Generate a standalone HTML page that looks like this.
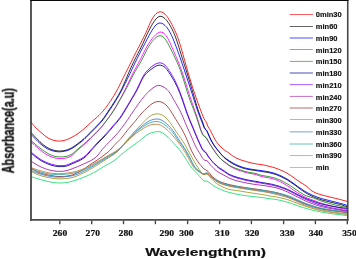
<!DOCTYPE html>
<html><head><meta charset="utf-8"><title>UV spectra</title>
<style>
html,body{margin:0;padding:0;background:#fff;}
body{width:356px;height:259px;overflow:hidden;font-family:"Liberation Sans",sans-serif;}
svg{display:block;}
.lg{font-family:"Liberation Sans",sans-serif;font-weight:bold;font-size:7.5px;fill:#111;stroke:#111;stroke-width:0.15px;}
.tk{font-family:"Liberation Serif",serif;font-weight:bold;font-size:8.5px;fill:#111;stroke:#111;stroke-width:0.22px;}
.xt{font-family:"Liberation Sans",sans-serif;font-weight:bold;font-size:10.8px;fill:#111;}
.yt{font-family:"Liberation Sans",sans-serif;font-weight:bold;font-size:10.8px;fill:#111;}
.cv path{fill:none;stroke-width:1.0;opacity:0.85;stroke-linejoin:round;stroke-linecap:butt;}
</style></head><body>
<svg width="356" height="259" viewBox="0 0 356 259">
<rect x="0" y="0" width="356" height="259" fill="#fff"/>
<defs><filter id="sb" filterUnits="userSpaceOnUse" x="0" y="0" width="356" height="259"><feGaussianBlur stdDeviation="0.3"/></filter></defs>
<g class="cv" filter="url(#sb)">
<path d="M31.0,121.9 32.0,123.3 33.0,124.6 34.0,125.8 35.0,126.9 36.0,128.0 37.0,128.9 38.0,129.8 39.0,130.7 40.0,131.5 41.0,132.4 42.0,133.2 43.0,134.1 44.0,135.0 45.0,135.9 46.0,136.6 47.0,137.3 48.0,138.0 49.0,138.5 50.0,139.0 51.0,139.4 52.0,139.8 53.0,140.1 54.0,140.4 55.0,140.6 56.0,140.8 57.0,140.9 58.0,141.0 59.0,141.1 60.0,141.0 61.0,141.0 62.0,140.8 63.0,140.7 64.0,140.5 65.0,140.2 66.0,139.9 67.0,139.6 68.0,139.2 69.0,138.7 70.0,138.2 71.0,137.7 72.0,137.2 73.0,136.6 74.0,136.1 75.0,135.5 76.0,134.9 77.0,134.2 78.0,133.6 79.0,132.8 80.0,132.1 81.0,131.3 82.0,130.5 83.0,129.7 84.0,128.8 85.0,127.9 86.0,127.0 87.0,126.1 88.0,125.2 89.0,124.3 90.0,123.4 91.0,122.5 92.0,121.6 93.0,120.7 94.0,119.8 95.0,119.0 96.0,118.1 97.0,117.2 98.0,116.2 99.0,115.3 100.0,114.3 101.0,113.3 102.0,112.2 103.0,111.1 104.0,109.9 105.0,108.6 106.0,107.3 107.0,106.0 108.0,104.6 109.0,103.2 110.0,101.7 111.0,100.3 112.0,98.7 113.0,97.1 114.0,95.5 115.0,93.8 116.0,92.0 117.0,90.2 118.0,88.3 119.0,86.3 120.0,84.3 121.0,82.3 122.0,80.3 123.0,78.2 124.0,76.2 125.0,74.2 126.0,72.2 127.0,70.2 128.0,68.3 129.0,66.3 130.0,64.3 131.0,62.3 132.0,60.2 133.0,58.2 134.0,56.1 135.0,54.1 136.0,52.2 137.0,50.3 138.0,48.4 139.0,46.5 140.0,44.5 141.0,42.6 142.0,40.6 143.0,38.7 144.0,36.6 145.0,34.6 146.0,32.4 147.0,30.2 148.0,27.9 149.0,25.5 150.0,23.2 151.0,21.1 152.0,19.2 153.0,17.5 154.0,16.0 155.0,14.8 156.0,13.8 157.0,13.0 158.0,12.4 159.0,12.0 160.0,11.8 161.0,11.8 162.0,12.1 163.0,12.6 164.0,13.3 165.0,14.2 166.0,15.2 167.0,16.5 168.0,17.9 169.0,19.4 170.0,21.0 171.0,22.8 172.0,24.7 173.0,26.6 174.0,28.7 175.0,30.8 176.0,33.1 177.0,35.5 178.0,38.2 179.0,41.1 180.0,44.2 181.0,47.5 182.0,51.0 183.0,54.5 184.0,58.1 185.0,61.6 186.0,65.2 187.0,68.8 188.0,72.3 189.0,75.7 190.0,79.0 191.0,82.3 192.0,85.5 193.0,88.6 194.0,91.7 195.0,94.6 196.0,97.5 197.0,100.3 198.0,103.1 199.0,105.8 200.0,108.5 201.0,111.2 202.0,113.9 203.0,116.5 204.0,118.6 205.0,120.3 206.0,121.7 207.0,123.9 208.0,126.6 209.0,128.2 210.0,129.8 211.0,131.8 212.0,133.8 213.0,135.7 214.0,137.7 215.0,139.4 216.0,141.1 217.0,142.5 218.0,143.8 219.0,145.0 220.0,146.0 221.0,147.0 222.0,148.0 223.0,148.9 224.0,149.7 225.0,150.5 226.0,151.1 227.0,151.8 228.0,152.4 229.0,153.1 230.0,153.9 231.0,154.6 232.0,155.4 233.0,156.1 234.0,156.7 235.0,157.3 236.0,157.9 237.0,158.4 238.0,158.8 239.0,159.2 240.0,159.6 241.0,160.0 242.0,160.3 243.0,160.6 244.0,160.9 245.0,161.2 246.0,161.5 247.0,161.8 248.0,162.1 249.0,162.4 250.0,162.6 251.0,162.9 252.0,163.1 253.0,163.3 254.0,163.5 255.0,163.7 256.0,163.9 257.0,164.0 258.0,164.2 259.0,164.3 260.0,164.4 261.0,164.6 262.0,164.7 263.0,164.9 264.0,165.1 265.0,165.3 266.0,165.5 267.0,165.8 268.0,166.0 269.0,166.3 270.0,166.5 271.0,166.8 272.0,167.0 273.0,167.3 274.0,167.6 275.0,167.9 276.0,168.3 277.0,168.6 278.0,169.0 279.0,169.4 280.0,169.8 281.0,170.3 282.0,170.7 283.0,171.2 284.0,171.6 285.0,172.1 286.0,172.7 287.0,173.2 288.0,173.8 289.0,174.4 290.0,175.0 291.0,175.7 292.0,176.4 293.0,177.1 294.0,177.8 295.0,178.5 296.0,179.3 297.0,180.0 298.0,180.7 299.0,181.4 300.0,182.1 301.0,182.7 302.0,183.3 303.0,183.9 304.0,184.6 305.0,185.2 306.0,185.9 307.0,186.7 308.0,187.6 309.0,188.5 310.0,189.4 311.0,190.2 312.0,191.0 313.0,191.6 314.0,192.1 315.0,192.6 316.0,193.0 317.0,193.4 318.0,193.8 319.0,194.1 320.0,194.4 321.0,194.7 322.0,195.0 323.0,195.3 324.0,195.5 325.0,195.8 326.0,196.1 327.0,196.3 328.0,196.5 329.0,196.8 330.0,197.0 331.0,197.3 332.0,197.5 333.0,197.7 334.0,198.0 335.0,198.2 336.0,198.5 337.0,198.7 338.0,199.0 339.0,199.2 340.0,199.5 341.0,199.7 342.0,200.0 343.0,200.3 344.0,200.6 345.0,200.8 346.0,201.1 347.0,201.4 347.6,201.6" stroke="#ff0000"/>
<path d="M31.0,132.3 32.0,133.4 33.0,134.6 34.0,135.7 35.0,136.8 36.0,137.8 37.0,138.9 38.0,139.9 39.0,140.8 40.0,141.8 41.0,142.7 42.0,143.6 43.0,144.5 44.0,145.3 45.0,146.0 46.0,146.7 47.0,147.4 48.0,147.9 49.0,148.5 50.0,148.9 51.0,149.3 52.0,149.7 53.0,150.0 54.0,150.3 55.0,150.5 56.0,150.7 57.0,150.8 58.0,150.9 59.0,151.0 60.0,151.0 61.0,150.9 62.0,150.9 63.0,150.8 64.0,150.6 65.0,150.4 66.0,150.2 67.0,149.9 68.0,149.5 69.0,149.1 70.0,148.7 71.0,148.2 72.0,147.6 73.0,147.0 74.0,146.4 75.0,145.7 76.0,145.0 77.0,144.2 78.0,143.5 79.0,142.7 80.0,141.9 81.0,141.2 82.0,140.4 83.0,139.5 84.0,138.7 85.0,137.7 86.0,136.8 87.0,135.8 88.0,134.8 89.0,133.8 90.0,132.7 91.0,131.7 92.0,130.7 93.0,129.7 94.0,128.7 95.0,127.7 96.0,126.7 97.0,125.7 98.0,124.6 99.0,123.6 100.0,122.5 101.0,121.3 102.0,120.1 103.0,118.9 104.0,117.5 105.0,116.1 106.0,114.6 107.0,113.1 108.0,111.6 109.0,110.0 110.0,108.5 111.0,107.0 112.0,105.5 113.0,103.9 114.0,102.3 115.0,100.8 116.0,99.2 117.0,97.5 118.0,95.8 119.0,94.1 120.0,92.3 121.0,90.3 122.0,88.3 123.0,86.1 124.0,83.8 125.0,81.5 126.0,79.1 127.0,76.8 128.0,74.4 129.0,72.1 130.0,69.9 131.0,67.6 132.0,65.4 133.0,63.3 134.0,61.2 135.0,59.1 136.0,57.1 137.0,55.2 138.0,53.2 139.0,51.3 140.0,49.4 141.0,47.4 142.0,45.3 143.0,43.2 144.0,41.0 145.0,38.8 146.0,36.6 147.0,34.5 148.0,32.4 149.0,30.4 150.0,28.5 151.0,26.6 152.0,24.9 153.0,23.2 154.0,21.7 155.0,20.2 156.0,19.0 157.0,17.9 158.0,17.1 159.0,16.6 160.0,16.3 161.0,16.4 162.0,16.6 163.0,17.1 164.0,17.8 165.0,18.7 166.0,19.7 167.0,20.9 168.0,22.2 169.0,23.7 170.0,25.4 171.0,27.2 172.0,29.0 173.0,31.1 174.0,33.3 175.0,35.7 176.0,38.4 177.0,41.3 178.0,44.4 179.0,47.6 180.0,50.9 181.0,54.1 182.0,57.3 183.0,60.4 184.0,63.5 185.0,66.6 186.0,69.8 187.0,73.0 188.0,76.2 189.0,79.5 190.0,82.8 191.0,86.2 192.0,89.6 193.0,93.0 194.0,96.4 195.0,99.8 196.0,103.2 197.0,106.4 198.0,109.6 199.0,112.5 200.0,115.3 201.0,117.9 202.0,120.4 203.0,123.0 204.0,126.3 205.0,128.8 206.0,129.7 207.0,131.0 208.0,133.1 209.0,135.4 210.0,137.7 211.0,139.8 212.0,141.7 213.0,143.4 214.0,145.0 215.0,146.4 216.0,147.8 217.0,149.1 218.0,150.4 219.0,151.6 220.0,152.9 221.0,154.1 222.0,155.3 223.0,156.4 224.0,157.4 225.0,158.3 226.0,159.1 227.0,159.9 228.0,160.7 229.0,161.3 230.0,162.0 231.0,162.7 232.0,163.3 233.0,163.9 234.0,164.4 235.0,164.9 236.0,165.4 237.0,165.9 238.0,166.3 239.0,166.7 240.0,167.1 241.0,167.5 242.0,167.8 243.0,168.1 244.0,168.4 245.0,168.7 246.0,168.9 247.0,169.2 248.0,169.4 249.0,169.5 250.0,169.7 251.0,169.9 252.0,170.0 253.0,170.2 254.0,170.3 255.0,170.5 256.0,170.6 257.0,170.8 258.0,170.9 259.0,171.1 260.0,171.2 261.0,171.4 262.0,171.5 263.0,171.7 264.0,171.8 265.0,172.0 266.0,172.2 267.0,172.3 268.0,172.5 269.0,172.7 270.0,172.9 271.0,173.2 272.0,173.4 273.0,173.7 274.0,173.9 275.0,174.3 276.0,174.6 277.0,175.0 278.0,175.4 279.0,175.8 280.0,176.2 281.0,176.7 282.0,177.2 283.0,177.7 284.0,178.2 285.0,178.7 286.0,179.3 287.0,179.8 288.0,180.4 289.0,181.1 290.0,181.7 291.0,182.4 292.0,183.1 293.0,183.8 294.0,184.5 295.0,185.2 296.0,185.9 297.0,186.7 298.0,187.4 299.0,188.1 300.0,188.9 301.0,189.6 302.0,190.3 303.0,191.0 304.0,191.7 305.0,192.4 306.0,193.0 307.0,193.6 308.0,194.1 309.0,194.7 310.0,195.2 311.0,195.7 312.0,196.2 313.0,196.7 314.0,197.1 315.0,197.5 316.0,197.9 317.0,198.3 318.0,198.6 319.0,199.0 320.0,199.3 321.0,199.7 322.0,200.0 323.0,200.3 324.0,200.5 325.0,200.8 326.0,201.1 327.0,201.3 328.0,201.5 329.0,201.8 330.0,202.0 331.0,202.3 332.0,202.5 333.0,202.7 334.0,203.0 335.0,203.2 336.0,203.5 337.0,203.7 338.0,204.0 339.0,204.2 340.0,204.5 341.0,204.7 342.0,205.0 343.0,205.3 344.0,205.7 345.0,206.0 346.0,206.3 347.0,206.7 347.6,206.9" stroke="#101010"/>
<path d="M31.0,134.2 32.0,135.3 33.0,136.4 34.0,137.5 35.0,138.6 36.0,139.6 37.0,140.6 38.0,141.6 39.0,142.5 40.0,143.4 41.0,144.3 42.0,145.1 43.0,145.9 44.0,146.7 45.0,147.3 46.0,148.0 47.0,148.6 48.0,149.1 49.0,149.5 50.0,149.9 51.0,150.3 52.0,150.6 53.0,150.9 54.0,151.2 55.0,151.4 56.0,151.5 57.0,151.7 58.0,151.8 59.0,151.8 60.0,151.8 61.0,151.7 62.0,151.6 63.0,151.5 64.0,151.3 65.0,151.1 66.0,150.9 67.0,150.6 68.0,150.3 69.0,149.9 70.0,149.4 71.0,148.9 72.0,148.4 73.0,147.8 74.0,147.2 75.0,146.5 76.0,145.8 77.0,145.0 78.0,144.3 79.0,143.5 80.0,142.7 81.0,142.0 82.0,141.2 83.0,140.3 84.0,139.5 85.0,138.5 86.0,137.6 87.0,136.6 88.0,135.6 89.0,134.6 90.0,133.5 91.0,132.5 92.0,131.5 93.0,130.5 94.0,129.5 95.0,128.5 96.0,127.5 97.0,126.5 98.0,125.4 99.0,124.4 100.0,123.3 101.0,122.1 102.0,121.0 103.0,119.7 104.0,118.4 105.0,117.0 106.0,115.5 107.0,114.0 108.0,112.5 109.0,111.0 110.0,109.6 111.0,108.1 112.0,106.6 113.0,105.1 114.0,103.5 115.0,101.9 116.0,100.3 117.0,98.6 118.0,96.9 119.0,95.2 120.0,93.4 121.0,91.6 122.0,89.7 123.0,87.8 124.0,85.8 125.0,83.8 126.0,81.8 127.0,79.7 128.0,77.6 129.0,75.6 130.0,73.5 131.0,71.4 132.0,69.2 133.0,67.1 134.0,65.0 135.0,62.9 136.0,60.9 137.0,58.8 138.0,56.8 139.0,54.8 140.0,52.9 141.0,50.9 142.0,49.0 143.0,47.1 144.0,45.1 145.0,43.2 146.0,41.3 147.0,39.3 148.0,37.5 149.0,35.6 150.0,33.8 151.0,32.1 152.0,30.4 153.0,28.8 154.0,27.4 155.0,26.0 156.0,24.9 157.0,24.1 158.0,23.5 159.0,23.1 160.0,23.0 161.0,23.1 162.0,23.4 163.0,23.9 164.0,24.6 165.0,25.5 166.0,26.5 167.0,27.6 168.0,29.0 169.0,30.5 170.0,32.3 171.0,34.3 172.0,36.4 173.0,38.7 174.0,41.2 175.0,43.8 176.0,46.4 177.0,49.1 178.0,51.8 179.0,54.6 180.0,57.4 181.0,60.3 182.0,63.2 183.0,66.1 184.0,69.0 185.0,72.0 186.0,75.0 187.0,78.0 188.0,81.1 189.0,84.1 190.0,87.2 191.0,90.3 192.0,93.4 193.0,96.5 194.0,99.7 195.0,102.8 196.0,105.9 197.0,108.9 198.0,111.8 199.0,114.5 200.0,117.2 201.0,119.7 202.0,122.2 203.0,124.8 204.0,127.5 205.0,128.9 206.0,129.8 207.0,131.4 208.0,133.7 209.0,136.1 210.0,138.3 211.0,140.4 212.0,142.2 213.0,143.9 214.0,145.4 215.0,146.8 216.0,148.1 217.0,149.3 218.0,150.5 219.0,151.7 220.0,152.9 221.0,154.0 222.0,155.1 223.0,156.1 224.0,157.0 225.0,157.8 226.0,158.6 227.0,159.3 228.0,160.0 229.0,160.6 230.0,161.3 231.0,161.9 232.0,162.5 233.0,163.1 234.0,163.6 235.0,164.1 236.0,164.6 237.0,165.1 238.0,165.5 239.0,165.9 240.0,166.3 241.0,166.7 242.0,167.1 243.0,167.4 244.0,167.7 245.0,167.9 246.0,168.2 247.0,168.4 248.0,168.6 249.0,168.8 250.0,169.0 251.0,169.2 252.0,169.3 253.0,169.5 254.0,169.6 255.0,169.8 256.0,169.9 257.0,170.1 258.0,170.2 259.0,170.3 260.0,170.4 261.0,170.6 262.0,170.7 263.0,170.9 264.0,171.0 265.0,171.2 266.0,171.4 267.0,171.5 268.0,171.7 269.0,171.9 270.0,172.1 271.0,172.4 272.0,172.6 273.0,172.9 274.0,173.1 275.0,173.5 276.0,173.8 277.0,174.2 278.0,174.6 279.0,175.0 280.0,175.4 281.0,175.9 282.0,176.4 283.0,176.9 284.0,177.4 285.0,177.9 286.0,178.5 287.0,179.0 288.0,179.6 289.0,180.3 290.0,180.9 291.0,181.6 292.0,182.3 293.0,183.0 294.0,183.7 295.0,184.4 296.0,185.2 297.0,185.9 298.0,186.6 299.0,187.3 300.0,188.0 301.0,188.7 302.0,189.4 303.0,190.1 304.0,190.7 305.0,191.4 306.0,191.9 307.0,192.5 308.0,193.0 309.0,193.6 310.0,194.0 311.0,194.5 312.0,195.0 313.0,195.4 314.0,195.8 315.0,196.2 316.0,196.6 317.0,197.0 318.0,197.4 319.0,197.7 320.0,198.0 321.0,198.4 322.0,198.7 323.0,199.0 324.0,199.2 325.0,199.5 326.0,199.7 327.0,200.0 328.0,200.2 329.0,200.5 330.0,200.7 331.0,201.0 332.0,201.2 333.0,201.5 334.0,201.7 335.0,202.0 336.0,202.2 337.0,202.5 338.0,202.7 339.0,203.0 340.0,203.3 341.0,203.5 342.0,203.8 343.0,204.1 344.0,204.4 345.0,204.7 346.0,205.1 347.0,205.4 347.6,205.6" stroke="#0000ff"/>
<path d="M31.0,141.8 32.0,142.8 33.0,143.7 34.0,144.6 35.0,145.6 36.0,146.5 37.0,147.3 38.0,148.2 39.0,149.0 40.0,149.8 41.0,150.6 42.0,151.4 43.0,152.2 44.0,152.9 45.0,153.6 46.0,154.2 47.0,154.8 48.0,155.3 49.0,155.8 50.0,156.3 51.0,156.7 52.0,157.1 53.0,157.4 54.0,157.7 55.0,158.0 56.0,158.2 57.0,158.4 58.0,158.5 59.0,158.6 60.0,158.6 61.0,158.6 62.0,158.5 63.0,158.5 64.0,158.4 65.0,158.2 66.0,158.0 67.0,157.8 68.0,157.5 69.0,157.1 70.0,156.7 71.0,156.1 72.0,155.5 73.0,154.7 74.0,153.8 75.0,152.8 76.0,151.8 77.0,150.8 78.0,149.8 79.0,148.9 80.0,148.0 81.0,147.2 82.0,146.3 83.0,145.5 84.0,144.6 85.0,143.7 86.0,142.8 87.0,141.9 88.0,141.0 89.0,140.0 90.0,139.1 91.0,138.1 92.0,137.1 93.0,136.1 94.0,135.1 95.0,134.1 96.0,133.1 97.0,132.1 98.0,131.0 99.0,129.9 100.0,128.8 101.0,127.7 102.0,126.5 103.0,125.3 104.0,124.0 105.0,122.7 106.0,121.3 107.0,119.9 108.0,118.5 109.0,117.1 110.0,115.7 111.0,114.2 112.0,112.8 113.0,111.2 114.0,109.7 115.0,108.0 116.0,106.3 117.0,104.6 118.0,102.8 119.0,101.0 120.0,99.2 121.0,97.4 122.0,95.5 123.0,93.7 124.0,91.8 125.0,89.8 126.0,87.8 127.0,85.7 128.0,83.6 129.0,81.4 130.0,79.3 131.0,77.1 132.0,75.1 133.0,73.1 134.0,71.2 135.0,69.3 136.0,67.5 137.0,65.6 138.0,63.8 139.0,62.0 140.0,60.1 141.0,58.1 142.0,56.1 143.0,54.1 144.0,52.1 145.0,50.1 146.0,48.2 147.0,46.4 148.0,44.7 149.0,43.1 150.0,41.6 151.0,40.1 152.0,38.8 153.0,37.6 154.0,36.4 155.0,35.4 156.0,34.4 157.0,33.6 158.0,32.9 159.0,32.4 160.0,32.1 161.0,32.1 162.0,32.3 163.0,32.7 164.0,33.4 165.0,34.3 166.0,35.5 167.0,37.0 168.0,38.8 169.0,40.8 170.0,42.9 171.0,45.1 172.0,47.4 173.0,49.6 174.0,51.9 175.0,54.2 176.0,56.5 177.0,58.9 178.0,61.3 179.0,63.8 180.0,66.3 181.0,69.0 182.0,71.8 183.0,74.7 184.0,77.8 185.0,80.9 186.0,84.1 187.0,87.3 188.0,90.5 189.0,93.7 190.0,96.8 191.0,99.8 192.0,102.7 193.0,105.5 194.0,108.3 195.0,111.2 196.0,114.1 197.0,117.1 198.0,120.3 199.0,123.5 200.0,126.8 201.0,130.0 202.0,132.6 203.0,134.5 204.0,135.9 205.0,136.8 206.0,137.5 207.0,138.9 208.0,140.8 209.0,142.5 210.0,144.1 211.0,145.6 212.0,147.2 213.0,148.7 214.0,150.2 215.0,151.6 216.0,153.0 217.0,154.4 218.0,155.7 219.0,156.9 220.0,158.1 221.0,159.1 222.0,160.0 223.0,160.9 224.0,161.7 225.0,162.5 226.0,163.3 227.0,164.1 228.0,164.9 229.0,165.6 230.0,166.2 231.0,166.9 232.0,167.4 233.0,167.9 234.0,168.4 235.0,168.8 236.0,169.2 237.0,169.6 238.0,170.0 239.0,170.4 240.0,170.7 241.0,171.0 242.0,171.4 243.0,171.7 244.0,172.0 245.0,172.3 246.0,172.5 247.0,172.8 248.0,173.0 249.0,173.2 250.0,173.4 251.0,173.5 252.0,173.7 253.0,173.9 254.0,174.1 255.0,174.3 256.0,174.6 257.0,174.9 258.0,175.3 259.0,175.6 260.0,176.0 261.0,176.3 262.0,176.6 263.0,176.8 264.0,177.0 265.0,177.2 266.0,177.4 267.0,177.6 268.0,177.7 269.0,177.9 270.0,178.1 271.0,178.4 272.0,178.6 273.0,178.9 274.0,179.2 275.0,179.5 276.0,179.9 277.0,180.3 278.0,180.7 279.0,181.1 280.0,181.6 281.0,182.1 282.0,182.6 283.0,183.2 284.0,183.7 285.0,184.3 286.0,184.9 287.0,185.6 288.0,186.2 289.0,186.9 290.0,187.6 291.0,188.3 292.0,189.1 293.0,189.8 294.0,190.5 295.0,191.2 296.0,191.8 297.0,192.4 298.0,193.0 299.0,193.6 300.0,194.2 301.0,194.8 302.0,195.4 303.0,195.9 304.0,196.5 305.0,197.0 306.0,197.5 307.0,197.9 308.0,198.4 309.0,198.7 310.0,199.1 311.0,199.5 312.0,199.8 313.0,200.2 314.0,200.5 315.0,200.9 316.0,201.3 317.0,201.6 318.0,202.0 319.0,202.4 320.0,202.7 321.0,203.1 322.0,203.4 323.0,203.7 324.0,204.0 325.0,204.3 326.0,204.6 327.0,204.9 328.0,205.1 329.0,205.4 330.0,205.7 331.0,205.9 332.0,206.2 333.0,206.4 334.0,206.7 335.0,206.9 336.0,207.2 337.0,207.4 338.0,207.6 339.0,207.9 340.0,208.1 341.0,208.3 342.0,208.5 343.0,208.7 344.0,208.9 345.0,209.1 346.0,209.3 347.0,209.4 347.6,209.6" stroke="#ff00ff"/>
<path d="M31.0,140.4 32.0,141.3 33.0,142.2 34.0,143.1 35.0,144.0 36.0,144.8 37.0,145.7 38.0,146.5 39.0,147.3 40.0,148.1 41.0,148.8 42.0,149.6 43.0,150.3 44.0,151.0 45.0,151.7 46.0,152.3 47.0,152.9 48.0,153.5 49.0,154.1 50.0,154.6 51.0,155.0 52.0,155.4 53.0,155.8 54.0,156.1 55.0,156.4 56.0,156.6 57.0,156.7 58.0,156.8 59.0,156.9 60.0,156.9 61.0,156.9 62.0,156.9 63.0,156.8 64.0,156.7 65.0,156.6 66.0,156.4 67.0,156.2 68.0,155.9 69.0,155.5 70.0,155.1 71.0,154.6 72.0,154.0 73.0,153.3 74.0,152.5 75.0,151.6 76.0,150.7 77.0,149.8 78.0,149.0 79.0,148.1 80.0,147.2 81.0,146.4 82.0,145.6 83.0,144.8 84.0,143.9 85.0,143.0 86.0,142.2 87.0,141.2 88.0,140.3 89.0,139.4 90.0,138.5 91.0,137.5 92.0,136.5 93.0,135.5 94.0,134.5 95.0,133.5 96.0,132.5 97.0,131.5 98.0,130.5 99.0,129.4 100.0,128.4 101.0,127.3 102.0,126.1 103.0,125.0 104.0,123.7 105.0,122.5 106.0,121.2 107.0,119.9 108.0,118.5 109.0,117.2 110.0,115.8 111.0,114.5 112.0,113.1 113.0,111.6 114.0,110.1 115.0,108.5 116.0,106.9 117.0,105.2 118.0,103.4 119.0,101.7 120.0,99.9 121.0,98.1 122.0,96.4 123.0,94.6 124.0,92.8 125.0,91.0 126.0,89.1 127.0,87.2 128.0,85.2 129.0,83.2 130.0,81.2 131.0,79.2 132.0,77.3 133.0,75.4 134.0,73.5 135.0,71.7 136.0,70.0 137.0,68.3 138.0,66.6 139.0,65.0 140.0,63.2 141.0,61.4 142.0,59.6 143.0,57.6 144.0,55.6 145.0,53.5 146.0,51.5 147.0,49.5 148.0,47.7 149.0,46.0 150.0,44.4 151.0,43.0 152.0,41.7 153.0,40.5 154.0,39.4 155.0,38.4 156.0,37.6 157.0,36.8 158.0,36.2 159.0,35.8 160.0,35.7 161.0,35.8 162.0,36.2 163.0,36.9 164.0,37.8 165.0,39.0 166.0,40.4 167.0,42.0 168.0,43.7 169.0,45.6 170.0,47.6 171.0,49.6 172.0,51.6 173.0,53.6 174.0,55.7 175.0,57.8 176.0,59.9 177.0,62.1 178.0,64.4 179.0,66.8 180.0,69.4 181.0,72.1 182.0,75.1 183.0,78.2 184.0,81.4 185.0,84.6 186.0,87.9 187.0,91.2 188.0,94.3 189.0,97.3 190.0,100.2 191.0,102.8 192.0,105.4 193.0,107.9 194.0,110.5 195.0,113.1 196.0,115.9 197.0,118.8 198.0,121.9 199.0,125.1 200.0,128.2 201.0,131.1 202.0,133.4 203.0,135.1 204.0,136.2 205.0,136.8 206.0,137.5 207.0,139.0 208.0,140.9 209.0,142.6 210.0,144.3 211.0,145.9 212.0,147.4 213.0,149.0 214.0,150.5 215.0,151.9 216.0,153.3 217.0,154.7 218.0,156.0 219.0,157.1 220.0,158.2 221.0,159.2 222.0,160.0 223.0,160.8 224.0,161.5 225.0,162.3 226.0,163.0 227.0,163.7 228.0,164.4 229.0,165.1 230.0,165.7 231.0,166.2 232.0,166.7 233.0,167.2 234.0,167.6 235.0,168.0 236.0,168.4 237.0,168.7 238.0,169.1 239.0,169.5 240.0,169.8 241.0,170.1 242.0,170.5 243.0,170.8 244.0,171.1 245.0,171.4 246.0,171.6 247.0,171.9 248.0,172.1 249.0,172.3 250.0,172.5 251.0,172.6 252.0,172.8 253.0,173.0 254.0,173.2 255.0,173.4 256.0,173.6 257.0,173.9 258.0,174.2 259.0,174.6 260.0,174.9 261.0,175.2 262.0,175.4 263.0,175.6 264.0,175.8 265.0,176.0 266.0,176.2 267.0,176.3 268.0,176.5 269.0,176.7 270.0,176.9 271.0,177.1 272.0,177.3 273.0,177.6 274.0,177.8 275.0,178.1 276.0,178.5 277.0,178.8 278.0,179.2 279.0,179.6 280.0,180.0 281.0,180.5 282.0,181.0 283.0,181.5 284.0,182.0 285.0,182.6 286.0,183.1 287.0,183.7 288.0,184.3 289.0,184.9 290.0,185.5 291.0,186.2 292.0,186.8 293.0,187.5 294.0,188.2 295.0,188.9 296.0,189.6 297.0,190.2 298.0,190.9 299.0,191.6 300.0,192.3 301.0,192.9 302.0,193.5 303.0,194.1 304.0,194.7 305.0,195.2 306.0,195.7 307.0,196.1 308.0,196.4 309.0,196.7 310.0,197.0 311.0,197.3 312.0,197.6 313.0,197.9 314.0,198.2 315.0,198.6 316.0,199.0 317.0,199.4 318.0,199.8 319.0,200.2 320.0,200.5 321.0,200.9 322.0,201.3 323.0,201.6 324.0,201.9 325.0,202.2 326.0,202.5 327.0,202.8 328.0,203.1 329.0,203.4 330.0,203.7 331.0,203.9 332.0,204.2 333.0,204.4 334.0,204.7 335.0,204.9 336.0,205.2 337.0,205.4 338.0,205.6 339.0,205.8 340.0,206.1 341.0,206.3 342.0,206.5 343.0,206.7 344.0,206.9 345.0,207.1 346.0,207.3 347.0,207.5 347.6,207.7" stroke="#1a8c1a"/>
<path d="M31.0,152.9 32.0,153.8 33.0,154.7 34.0,155.5 35.0,156.4 36.0,157.2 37.0,157.9 38.0,158.6 39.0,159.3 40.0,160.0 41.0,160.6 42.0,161.2 43.0,161.7 44.0,162.2 45.0,162.7 46.0,163.1 47.0,163.6 48.0,164.0 49.0,164.4 50.0,164.7 51.0,165.1 52.0,165.4 53.0,165.6 54.0,165.9 55.0,166.1 56.0,166.3 57.0,166.4 58.0,166.6 59.0,166.6 60.0,166.6 61.0,166.6 62.0,166.6 63.0,166.6 64.0,166.5 65.0,166.4 66.0,166.2 67.0,165.9 68.0,165.6 69.0,165.2 70.0,164.7 71.0,164.3 72.0,163.8 73.0,163.4 74.0,163.0 75.0,162.6 76.0,162.1 77.0,161.7 78.0,161.3 79.0,160.8 80.0,160.3 81.0,159.8 82.0,159.2 83.0,158.6 84.0,157.9 85.0,157.1 86.0,156.2 87.0,155.2 88.0,154.1 89.0,153.0 90.0,151.9 91.0,150.7 92.0,149.6 93.0,148.5 94.0,147.3 95.0,146.2 96.0,145.1 97.0,144.1 98.0,143.0 99.0,142.0 100.0,141.0 101.0,140.0 102.0,139.0 103.0,138.0 104.0,137.0 105.0,135.9 106.0,134.8 107.0,133.7 108.0,132.6 109.0,131.4 110.0,130.3 111.0,129.1 112.0,127.9 113.0,126.7 114.0,125.6 115.0,124.4 116.0,123.3 117.0,122.1 118.0,120.9 119.0,119.7 120.0,118.3 121.0,116.9 122.0,115.4 123.0,113.8 124.0,112.2 125.0,110.5 126.0,108.9 127.0,107.2 128.0,105.5 129.0,103.8 130.0,102.1 131.0,100.4 132.0,98.7 133.0,97.0 134.0,95.3 135.0,93.6 136.0,91.9 137.0,90.0 138.0,88.0 139.0,85.9 140.0,83.7 141.0,81.6 142.0,79.6 143.0,77.8 144.0,76.2 145.0,74.9 146.0,73.7 147.0,72.7 148.0,71.8 149.0,71.0 150.0,70.2 151.0,69.4 152.0,68.7 153.0,68.0 154.0,67.3 155.0,66.6 156.0,66.1 157.0,65.7 158.0,65.4 159.0,65.2 160.0,65.1 161.0,65.3 162.0,65.5 163.0,66.0 164.0,66.6 165.0,67.4 166.0,68.5 167.0,69.7 168.0,71.1 169.0,72.5 170.0,74.1 171.0,75.6 172.0,77.3 173.0,78.9 174.0,80.7 175.0,82.5 176.0,84.5 177.0,86.5 178.0,88.8 179.0,91.1 180.0,93.6 181.0,96.2 182.0,99.0 183.0,101.8 184.0,104.8 185.0,107.7 186.0,110.7 187.0,113.5 188.0,116.2 189.0,118.8 190.0,121.2 191.0,123.6 192.0,126.0 193.0,128.3 194.0,130.7 195.0,133.2 196.0,135.6 197.0,137.9 198.0,140.2 199.0,142.4 200.0,144.6 201.0,146.7 202.0,148.9 203.0,150.5 204.0,151.4 205.0,152.0 206.0,153.0 207.0,154.5 208.0,156.2 209.0,157.5 210.0,158.8 211.0,160.0 212.0,161.1 213.0,162.2 214.0,163.2 215.0,164.1 216.0,165.0 217.0,165.9 218.0,166.8 219.0,167.6 220.0,168.3 221.0,168.9 222.0,169.5 223.0,170.1 224.0,170.8 225.0,171.5 226.0,172.2 227.0,172.9 228.0,173.6 229.0,174.1 230.0,174.7 231.0,175.1 232.0,175.5 233.0,175.9 234.0,176.3 235.0,176.6 236.0,176.9 237.0,177.2 238.0,177.5 239.0,177.8 240.0,178.1 241.0,178.3 242.0,178.6 243.0,178.9 244.0,179.1 245.0,179.4 246.0,179.6 247.0,179.8 248.0,180.0 249.0,180.2 250.0,180.4 251.0,180.6 252.0,180.7 253.0,180.9 254.0,181.1 255.0,181.2 256.0,181.4 257.0,181.6 258.0,181.8 259.0,182.0 260.0,182.2 261.0,182.4 262.0,182.5 263.0,182.7 264.0,182.9 265.0,183.0 266.0,183.2 267.0,183.4 268.0,183.6 269.0,183.7 270.0,183.9 271.0,184.1 272.0,184.3 273.0,184.5 274.0,184.8 275.0,185.0 276.0,185.3 277.0,185.6 278.0,185.9 279.0,186.2 280.0,186.5 281.0,186.9 282.0,187.2 283.0,187.6 284.0,188.0 285.0,188.3 286.0,188.7 287.0,189.2 288.0,189.6 289.0,190.1 290.0,190.6 291.0,191.1 292.0,191.6 293.0,192.1 294.0,192.7 295.0,193.2 296.0,193.7 297.0,194.2 298.0,194.7 299.0,195.2 300.0,195.7 301.0,196.2 302.0,196.7 303.0,197.2 304.0,197.7 305.0,198.1 306.0,198.6 307.0,199.0 308.0,199.4 309.0,199.8 310.0,200.1 311.0,200.5 312.0,200.8 313.0,201.2 314.0,201.5 315.0,201.9 316.0,202.3 317.0,202.6 318.0,203.0 319.0,203.3 320.0,203.6 321.0,203.8 322.0,204.1 323.0,204.3 324.0,204.6 325.0,204.8 326.0,205.0 327.0,205.2 328.0,205.4 329.0,205.6 330.0,205.8 331.0,206.0 332.0,206.1 333.0,206.3 334.0,206.5 335.0,206.7 336.0,206.8 337.0,207.0 338.0,207.2 339.0,207.3 340.0,207.5 341.0,207.6 342.0,207.8 343.0,207.9 344.0,208.1 345.0,208.2 346.0,208.3 347.0,208.5 347.6,208.5" stroke="#000090"/>
<path d="M31.0,151.9 32.0,152.8 33.0,153.7 34.0,154.5 35.0,155.4 36.0,156.2 37.0,156.9 38.0,157.6 39.0,158.3 40.0,159.0 41.0,159.6 42.0,160.2 43.0,160.7 44.0,161.2 45.0,161.7 46.0,162.1 47.0,162.6 48.0,163.0 49.0,163.4 50.0,163.7 51.0,164.1 52.0,164.4 53.0,164.6 54.0,164.9 55.0,165.1 56.0,165.3 57.0,165.4 58.0,165.6 59.0,165.6 60.0,165.6 61.0,165.6 62.0,165.6 63.0,165.6 64.0,165.5 65.0,165.4 66.0,165.2 67.0,164.9 68.0,164.6 69.0,164.2 70.0,163.7 71.0,163.3 72.0,162.8 73.0,162.4 74.0,162.0 75.0,161.6 76.0,161.1 77.0,160.7 78.0,160.3 79.0,159.8 80.0,159.3 81.0,158.8 82.0,158.2 83.0,157.6 84.0,156.9 85.0,156.1 86.0,155.2 87.0,154.2 88.0,153.1 89.0,152.0 90.0,150.9 91.0,149.7 92.0,148.6 93.0,147.5 94.0,146.3 95.0,145.2 96.0,144.1 97.0,143.1 98.0,142.0 99.0,141.0 100.0,140.0 101.0,139.1 102.0,138.1 103.0,137.0 104.0,136.0 105.0,134.9 106.0,133.8 107.0,132.7 108.0,131.6 109.0,130.5 110.0,129.3 111.0,128.2 112.0,127.0 113.0,125.8 114.0,124.6 115.0,123.5 116.0,122.4 117.0,121.2 118.0,120.0 119.0,118.8 120.0,117.4 121.0,116.0 122.0,114.5 123.0,112.9 124.0,111.3 125.0,109.6 126.0,108.0 127.0,106.3 128.0,104.7 129.0,103.0 130.0,101.3 131.0,99.6 132.0,97.9 133.0,96.2 134.0,94.5 135.0,92.8 136.0,91.0 137.0,89.1 138.0,87.1 139.0,84.9 140.0,82.7 141.0,80.5 142.0,78.4 143.0,76.5 144.0,74.8 145.0,73.3 146.0,72.0 147.0,70.9 148.0,69.9 149.0,69.0 150.0,68.1 151.0,67.2 152.0,66.4 153.0,65.7 154.0,65.0 155.0,64.3 156.0,63.8 157.0,63.4 158.0,63.1 159.0,62.9 160.0,62.8 161.0,63.0 162.0,63.2 163.0,63.7 164.0,64.3 165.0,65.1 166.0,66.2 167.0,67.4 168.0,68.8 169.0,70.3 170.0,71.8 171.0,73.4 172.0,75.1 173.0,76.9 174.0,78.7 175.0,80.6 176.0,82.7 177.0,84.8 178.0,87.2 179.0,89.6 180.0,92.2 181.0,94.9 182.0,97.7 183.0,100.6 184.0,103.6 185.0,106.7 186.0,109.7 187.0,112.6 188.0,115.3 189.0,117.9 190.0,120.4 191.0,122.7 192.0,125.1 193.0,127.5 194.0,129.9 195.0,132.4 196.0,134.8 197.0,137.2 198.0,139.5 199.0,141.7 200.0,143.9 201.0,146.0 202.0,148.2 203.0,149.8 204.0,150.8 205.0,151.5 206.0,152.5 207.0,154.1 208.0,155.8 209.0,157.3 210.0,158.7 211.0,160.0 212.0,161.2 213.0,162.4 214.0,163.5 215.0,164.5 216.0,165.5 217.0,166.5 218.0,167.4 219.0,168.2 220.0,169.0 221.0,169.6 222.0,170.2 223.0,170.9 224.0,171.5 225.0,172.2 226.0,172.9 227.0,173.6 228.0,174.3 229.0,174.9 230.0,175.4 231.0,175.8 232.0,176.2 233.0,176.6 234.0,177.0 235.0,177.3 236.0,177.7 237.0,178.0 238.0,178.3 239.0,178.5 240.0,178.8 241.0,179.1 242.0,179.3 243.0,179.6 244.0,179.8 245.0,180.1 246.0,180.3 247.0,180.5 248.0,180.7 249.0,180.9 250.0,181.1 251.0,181.3 252.0,181.5 253.0,181.6 254.0,181.8 255.0,182.0 256.0,182.2 257.0,182.4 258.0,182.6 259.0,182.7 260.0,182.9 261.0,183.1 262.0,183.3 263.0,183.5 264.0,183.6 265.0,183.8 266.0,184.0 267.0,184.1 268.0,184.3 269.0,184.5 270.0,184.7 271.0,184.9 272.0,185.1 273.0,185.3 274.0,185.5 275.0,185.8 276.0,186.1 277.0,186.4 278.0,186.7 279.0,187.0 280.0,187.3 281.0,187.7 282.0,188.0 283.0,188.4 284.0,188.7 285.0,189.1 286.0,189.5 287.0,189.9 288.0,190.4 289.0,190.9 290.0,191.3 291.0,191.9 292.0,192.4 293.0,192.9 294.0,193.5 295.0,194.0 296.0,194.5 297.0,195.0 298.0,195.5 299.0,196.0 300.0,196.6 301.0,197.1 302.0,197.6 303.0,198.1 304.0,198.6 305.0,199.1 306.0,199.5 307.0,200.0 308.0,200.4 309.0,200.8 310.0,201.2 311.0,201.6 312.0,202.0 313.0,202.4 314.0,202.8 315.0,203.2 316.0,203.5 317.0,203.9 318.0,204.3 319.0,204.6 320.0,205.0 321.0,205.3 322.0,205.5 323.0,205.8 324.0,206.1 325.0,206.3 326.0,206.6 327.0,206.8 328.0,207.0 329.0,207.2 330.0,207.5 331.0,207.7 332.0,207.9 333.0,208.1 334.0,208.3 335.0,208.5 336.0,208.7 337.0,208.9 338.0,209.1 339.0,209.3 340.0,209.5 341.0,209.6 342.0,209.8 343.0,210.0 344.0,210.2 345.0,210.3 346.0,210.5 347.0,210.6 347.6,210.7" stroke="#8000ff"/>
<path d="M31.0,161.1 32.0,161.8 33.0,162.4 34.0,163.1 35.0,163.7 36.0,164.3 37.0,164.9 38.0,165.4 39.0,166.0 40.0,166.5 41.0,166.9 42.0,167.4 43.0,167.8 44.0,168.2 45.0,168.6 46.0,169.0 47.0,169.3 48.0,169.6 49.0,169.9 50.0,170.2 51.0,170.4 52.0,170.6 53.0,170.8 54.0,170.9 55.0,171.1 56.0,171.2 57.0,171.3 58.0,171.3 59.0,171.3 60.0,171.3 61.0,171.3 62.0,171.2 63.0,171.2 64.0,171.1 65.0,170.9 66.0,170.7 67.0,170.5 68.0,170.2 69.0,169.9 70.0,169.5 71.0,169.2 72.0,168.8 73.0,168.4 74.0,168.0 75.0,167.7 76.0,167.3 77.0,166.9 78.0,166.4 79.0,166.0 80.0,165.6 81.0,165.2 82.0,164.7 83.0,164.2 84.0,163.8 85.0,163.3 86.0,162.9 87.0,162.4 88.0,161.9 89.0,161.5 90.0,161.0 91.0,160.5 92.0,159.9 93.0,159.3 94.0,158.7 95.0,157.9 96.0,157.1 97.0,156.1 98.0,155.0 99.0,153.8 100.0,152.4 101.0,151.1 102.0,149.8 103.0,148.6 104.0,147.5 105.0,146.4 106.0,145.3 107.0,144.3 108.0,143.2 109.0,142.2 110.0,141.2 111.0,140.2 112.0,139.2 113.0,138.1 114.0,137.1 115.0,136.0 116.0,134.9 117.0,133.8 118.0,132.6 119.0,131.4 120.0,130.1 121.0,128.8 122.0,127.5 123.0,126.2 124.0,124.8 125.0,123.5 126.0,122.1 127.0,120.6 128.0,119.2 129.0,117.7 130.0,116.2 131.0,114.7 132.0,113.2 133.0,111.7 134.0,110.2 135.0,108.8 136.0,107.4 137.0,106.0 138.0,104.6 139.0,103.2 140.0,101.9 141.0,100.5 142.0,99.2 143.0,97.9 144.0,96.7 145.0,95.4 146.0,94.3 147.0,93.2 148.0,92.2 149.0,91.2 150.0,90.3 151.0,89.5 152.0,88.7 153.0,87.9 154.0,87.2 155.0,86.6 156.0,86.0 157.0,85.7 158.0,85.5 159.0,85.4 160.0,85.6 161.0,85.8 162.0,86.2 163.0,86.7 164.0,87.2 165.0,87.9 166.0,88.6 167.0,89.5 168.0,90.6 169.0,91.8 170.0,93.2 171.0,94.8 172.0,96.6 173.0,98.4 174.0,100.2 175.0,102.0 176.0,103.7 177.0,105.4 178.0,107.1 179.0,108.9 180.0,110.8 181.0,112.8 182.0,115.0 183.0,117.3 184.0,119.7 185.0,122.2 186.0,124.5 187.0,126.9 188.0,129.1 189.0,131.3 190.0,133.6 191.0,135.8 192.0,138.1 193.0,140.5 194.0,142.8 195.0,145.0 196.0,147.0 197.0,148.9 198.0,150.6 199.0,152.2 200.0,153.8 201.0,155.5 202.0,157.3 203.0,158.7 204.0,159.8 205.0,160.4 206.0,160.6 207.0,160.8 208.0,161.5 209.0,162.9 210.0,164.3 211.0,165.4 212.0,166.5 213.0,167.6 214.0,168.6 215.0,169.5 216.0,170.4 217.0,171.2 218.0,171.9 219.0,172.5 220.0,173.1 221.0,173.6 222.0,174.1 223.0,174.7 224.0,175.2 225.0,175.8 226.0,176.3 227.0,176.9 228.0,177.5 229.0,178.0 230.0,178.4 231.0,178.8 232.0,179.2 233.0,179.6 234.0,179.9 235.0,180.3 236.0,180.6 237.0,180.8 238.0,181.1 239.0,181.3 240.0,181.6 241.0,181.8 242.0,182.0 243.0,182.3 244.0,182.5 245.0,182.7 246.0,182.9 247.0,183.1 248.0,183.3 249.0,183.4 250.0,183.6 251.0,183.8 252.0,184.0 253.0,184.1 254.0,184.3 255.0,184.4 256.0,184.6 257.0,184.7 258.0,184.8 259.0,184.9 260.0,185.1 261.0,185.2 262.0,185.3 263.0,185.5 264.0,185.6 265.0,185.7 266.0,185.9 267.0,186.0 268.0,186.2 269.0,186.4 270.0,186.5 271.0,186.7 272.0,186.9 273.0,187.1 274.0,187.3 275.0,187.5 276.0,187.8 277.0,188.0 278.0,188.4 279.0,188.7 280.0,189.0 281.0,189.4 282.0,189.7 283.0,190.1 284.0,190.5 285.0,190.9 286.0,191.3 287.0,191.7 288.0,192.2 289.0,192.7 290.0,193.2 291.0,193.7 292.0,194.2 293.0,194.7 294.0,195.3 295.0,195.8 296.0,196.3 297.0,196.7 298.0,197.2 299.0,197.7 300.0,198.2 301.0,198.7 302.0,199.2 303.0,199.7 304.0,200.2 305.0,200.7 306.0,201.1 307.0,201.6 308.0,202.0 309.0,202.4 310.0,202.8 311.0,203.2 312.0,203.6 313.0,203.9 314.0,204.3 315.0,204.6 316.0,205.0 317.0,205.3 318.0,205.6 319.0,205.9 320.0,206.2 321.0,206.4 322.0,206.7 323.0,206.9 324.0,207.1 325.0,207.4 326.0,207.6 327.0,207.8 328.0,208.0 329.0,208.2 330.0,208.4 331.0,208.6 332.0,208.7 333.0,208.9 334.0,209.1 335.0,209.3 336.0,209.5 337.0,209.7 338.0,209.8 339.0,210.0 340.0,210.2 341.0,210.3 342.0,210.5 343.0,210.6 344.0,210.8 345.0,211.0 346.0,211.1 347.0,211.3 347.6,211.3" stroke="#a020a0"/>
<path d="M31.0,168.2 32.0,168.8 33.0,169.4 34.0,170.0 35.0,170.6 36.0,171.1 37.0,171.6 38.0,172.1 39.0,172.5 40.0,172.9 41.0,173.2 42.0,173.5 43.0,173.8 44.0,174.1 45.0,174.3 46.0,174.5 47.0,174.8 48.0,175.0 49.0,175.2 50.0,175.3 51.0,175.5 52.0,175.7 53.0,175.8 54.0,176.0 55.0,176.2 56.0,176.3 57.0,176.4 58.0,176.5 59.0,176.5 60.0,176.5 61.0,176.5 62.0,176.5 63.0,176.4 64.0,176.4 65.0,176.3 66.0,176.2 67.0,176.0 68.0,175.9 69.0,175.7 70.0,175.5 71.0,175.3 72.0,175.0 73.0,174.7 74.0,174.3 75.0,173.9 76.0,173.4 77.0,173.0 78.0,172.5 79.0,172.0 80.0,171.5 81.0,170.9 82.0,170.4 83.0,169.8 84.0,169.1 85.0,168.4 86.0,167.7 87.0,166.9 88.0,166.1 89.0,165.4 90.0,164.6 91.0,164.0 92.0,163.3 93.0,162.7 94.0,162.1 95.0,161.5 96.0,160.9 97.0,160.2 98.0,159.5 99.0,158.8 100.0,158.0 101.0,157.3 102.0,156.6 103.0,155.9 104.0,155.2 105.0,154.4 106.0,153.7 107.0,152.9 108.0,152.1 109.0,151.2 110.0,150.2 111.0,149.1 112.0,148.0 113.0,146.8 114.0,145.7 115.0,144.6 116.0,143.5 117.0,142.5 118.0,141.5 119.0,140.5 120.0,139.5 121.0,138.4 122.0,137.2 123.0,136.0 124.0,134.7 125.0,133.4 126.0,132.1 127.0,130.8 128.0,129.6 129.0,128.4 130.0,127.2 131.0,126.0 132.0,124.9 133.0,123.7 134.0,122.5 135.0,121.4 136.0,120.2 137.0,118.9 138.0,117.7 139.0,116.4 140.0,115.2 141.0,114.0 142.0,112.9 143.0,111.8 144.0,110.8 145.0,109.8 146.0,108.9 147.0,107.9 148.0,107.0 149.0,106.1 150.0,105.3 151.0,104.5 152.0,103.8 153.0,103.2 154.0,102.6 155.0,102.2 156.0,101.9 157.0,101.6 158.0,101.5 159.0,101.6 160.0,101.7 161.0,101.9 162.0,102.3 163.0,102.8 164.0,103.4 165.0,104.1 166.0,105.0 167.0,106.0 168.0,107.2 169.0,108.5 170.0,109.9 171.0,111.5 172.0,113.1 173.0,114.7 174.0,116.4 175.0,118.0 176.0,119.6 177.0,121.2 178.0,122.8 179.0,124.4 180.0,126.1 181.0,127.7 182.0,129.5 183.0,131.3 184.0,133.2 185.0,135.2 186.0,137.4 187.0,139.8 188.0,142.3 189.0,144.9 190.0,147.3 191.0,149.6 192.0,151.7 193.0,153.7 194.0,155.5 195.0,157.2 196.0,158.8 197.0,160.3 198.0,161.8 199.0,163.2 200.0,164.5 201.0,165.7 202.0,166.9 203.0,168.0 204.0,168.9 205.0,169.5 206.0,170.0 207.0,170.6 208.0,171.4 209.0,172.6 210.0,173.9 211.0,175.1 212.0,176.2 213.0,177.2 214.0,178.0 215.0,178.8 216.0,179.5 217.0,180.1 218.0,180.7 219.0,181.2 220.0,181.6 221.0,182.1 222.0,182.5 223.0,182.8 224.0,183.1 225.0,183.4 226.0,183.7 227.0,184.0 228.0,184.3 229.0,184.5 230.0,184.8 231.0,185.0 232.0,185.2 233.0,185.4 234.0,185.6 235.0,185.8 236.0,186.0 237.0,186.2 238.0,186.4 239.0,186.5 240.0,186.7 241.0,186.9 242.0,187.0 243.0,187.2 244.0,187.3 245.0,187.5 246.0,187.7 247.0,187.8 248.0,188.0 249.0,188.1 250.0,188.3 251.0,188.4 252.0,188.6 253.0,188.7 254.0,188.8 255.0,189.0 256.0,189.1 257.0,189.3 258.0,189.4 259.0,189.6 260.0,189.7 261.0,189.9 262.0,190.0 263.0,190.2 264.0,190.3 265.0,190.5 266.0,190.7 267.0,190.8 268.0,191.0 269.0,191.2 270.0,191.4 271.0,191.5 272.0,191.7 273.0,191.9 274.0,192.1 275.0,192.3 276.0,192.5 277.0,192.8 278.0,193.0 279.0,193.3 280.0,193.6 281.0,193.9 282.0,194.2 283.0,194.6 284.0,195.0 285.0,195.4 286.0,195.8 287.0,196.2 288.0,196.6 289.0,197.1 290.0,197.5 291.0,197.9 292.0,198.3 293.0,198.7 294.0,199.2 295.0,199.6 296.0,200.0 297.0,200.4 298.0,200.8 299.0,201.2 300.0,201.7 301.0,202.1 302.0,202.5 303.0,202.9 304.0,203.2 305.0,203.6 306.0,204.0 307.0,204.4 308.0,204.7 309.0,205.1 310.0,205.4 311.0,205.8 312.0,206.1 313.0,206.5 314.0,206.8 315.0,207.1 316.0,207.4 317.0,207.7 318.0,208.0 319.0,208.2 320.0,208.5 321.0,208.7 322.0,208.9 323.0,209.1 324.0,209.3 325.0,209.5 326.0,209.6 327.0,209.8 328.0,210.0 329.0,210.1 330.0,210.3 331.0,210.4 332.0,210.6 333.0,210.7 334.0,210.9 335.0,211.0 336.0,211.1 337.0,211.3 338.0,211.4 339.0,211.6 340.0,211.7 341.0,211.8 342.0,212.0 343.0,212.1 344.0,212.2 345.0,212.3 346.0,212.4 347.0,212.6 347.6,212.6" stroke="#a03030"/>
<path d="M31.0,171.3 32.0,171.8 33.0,172.4 34.0,172.9 35.0,173.4 36.0,173.8 37.0,174.3 38.0,174.7 39.0,175.1 40.0,175.4 41.0,175.7 42.0,176.0 43.0,176.3 44.0,176.6 45.0,176.8 46.0,177.1 47.0,177.3 48.0,177.5 49.0,177.7 50.0,177.9 51.0,178.0 52.0,178.2 53.0,178.3 54.0,178.5 55.0,178.6 56.0,178.7 57.0,178.8 58.0,178.8 59.0,178.8 60.0,178.9 61.0,178.8 62.0,178.8 63.0,178.8 64.0,178.7 65.0,178.7 66.0,178.6 67.0,178.5 68.0,178.3 69.0,178.2 70.0,178.0 71.0,177.8 72.0,177.6 73.0,177.3 74.0,177.0 75.0,176.7 76.0,176.3 77.0,175.9 78.0,175.5 79.0,175.1 80.0,174.6 81.0,174.1 82.0,173.6 83.0,173.2 84.0,172.7 85.0,172.2 86.0,171.7 87.0,171.2 88.0,170.6 89.0,170.1 90.0,169.5 91.0,168.9 92.0,168.3 93.0,167.7 94.0,167.1 95.0,166.5 96.0,165.9 97.0,165.3 98.0,164.7 99.0,164.0 100.0,163.4 101.0,162.8 102.0,162.1 103.0,161.4 104.0,160.8 105.0,160.1 106.0,159.4 107.0,158.8 108.0,158.1 109.0,157.5 110.0,156.9 111.0,156.3 112.0,155.6 113.0,155.0 114.0,154.3 115.0,153.6 116.0,152.8 117.0,151.9 118.0,151.0 119.0,149.9 120.0,148.8 121.0,147.6 122.0,146.4 123.0,145.1 124.0,143.9 125.0,142.6 126.0,141.4 127.0,140.2 128.0,139.0 129.0,137.8 130.0,136.6 131.0,135.5 132.0,134.3 133.0,133.2 134.0,132.1 135.0,131.0 136.0,130.0 137.0,129.0 138.0,128.0 139.0,127.0 140.0,125.9 141.0,124.9 142.0,123.8 143.0,122.7 144.0,121.6 145.0,120.5 146.0,119.5 147.0,118.6 148.0,117.7 149.0,116.9 150.0,116.2 151.0,115.6 152.0,115.0 153.0,114.6 154.0,114.3 155.0,114.1 156.0,114.0 157.0,113.9 158.0,113.9 159.0,114.0 160.0,114.2 161.0,114.5 162.0,115.0 163.0,115.5 164.0,116.2 165.0,117.0 166.0,117.9 167.0,119.0 168.0,120.1 169.0,121.3 170.0,122.6 171.0,123.9 172.0,125.3 173.0,126.8 174.0,128.3 175.0,129.8 176.0,131.3 177.0,132.8 178.0,134.3 179.0,135.7 180.0,137.2 181.0,138.6 182.0,140.1 183.0,141.6 184.0,143.1 185.0,144.8 186.0,146.5 187.0,148.4 188.0,150.2 189.0,152.1 190.0,154.0 191.0,155.8 192.0,157.6 193.0,159.3 194.0,161.0 195.0,162.7 196.0,164.3 197.0,166.0 198.0,167.6 199.0,169.2 200.0,170.7 201.0,172.0 202.0,173.3 203.0,174.3 204.0,174.6 205.0,174.4 206.0,174.2 207.0,174.1 208.0,174.7 209.0,175.8 210.0,177.0 211.0,178.2 212.0,179.3 213.0,180.3 214.0,181.3 215.0,182.2 216.0,183.0 217.0,183.7 218.0,184.4 219.0,185.0 220.0,185.5 221.0,186.1 222.0,186.6 223.0,187.1 224.0,187.5 225.0,187.9 226.0,188.3 227.0,188.7 228.0,189.0 229.0,189.3 230.0,189.5 231.0,189.7 232.0,189.9 233.0,190.0 234.0,190.2 235.0,190.3 236.0,190.4 237.0,190.6 238.0,190.7 239.0,190.9 240.0,191.0 241.0,191.2 242.0,191.4 243.0,191.6 244.0,191.7 245.0,191.9 246.0,192.1 247.0,192.2 248.0,192.4 249.0,192.6 250.0,192.7 251.0,192.9 252.0,193.0 253.0,193.2 254.0,193.3 255.0,193.5 256.0,193.6 257.0,193.7 258.0,193.9 259.0,194.0 260.0,194.2 261.0,194.3 262.0,194.5 263.0,194.7 264.0,194.9 265.0,195.0 266.0,195.2 267.0,195.4 268.0,195.6 269.0,195.8 270.0,195.9 271.0,196.1 272.0,196.3 273.0,196.4 274.0,196.6 275.0,196.7 276.0,196.9 277.0,197.1 278.0,197.3 279.0,197.5 280.0,197.7 281.0,198.0 282.0,198.2 283.0,198.4 284.0,198.7 285.0,199.0 286.0,199.2 287.0,199.5 288.0,199.8 289.0,200.1 290.0,200.5 291.0,200.8 292.0,201.2 293.0,201.6 294.0,202.0 295.0,202.4 296.0,202.8 297.0,203.2 298.0,203.6 299.0,204.0 300.0,204.4 301.0,204.8 302.0,205.1 303.0,205.4 304.0,205.8 305.0,206.1 306.0,206.4 307.0,206.7 308.0,207.0 309.0,207.3 310.0,207.7 311.0,208.0 312.0,208.3 313.0,208.6 314.0,208.9 315.0,209.2 316.0,209.5 317.0,209.7 318.0,210.0 319.0,210.2 320.0,210.5 321.0,210.7 322.0,210.9 323.0,211.1 324.0,211.3 325.0,211.5 326.0,211.6 327.0,211.8 328.0,212.0 329.0,212.1 330.0,212.3 331.0,212.4 332.0,212.6 333.0,212.7 334.0,212.9 335.0,213.0 336.0,213.1 337.0,213.3 338.0,213.4 339.0,213.5 340.0,213.7 341.0,213.8 342.0,213.9 343.0,214.0 344.0,214.1 345.0,214.3 346.0,214.4 347.0,214.5 347.6,214.5" stroke="#9a9a28"/>
<path d="M31.0,170.4 32.0,170.8 33.0,171.3 34.0,171.7 35.0,172.1 36.0,172.5 37.0,172.9 38.0,173.3 39.0,173.6 40.0,173.9 41.0,174.2 42.0,174.5 43.0,174.8 44.0,175.1 45.0,175.3 46.0,175.6 47.0,175.8 48.0,176.0 49.0,176.2 50.0,176.4 51.0,176.6 52.0,176.7 53.0,176.8 54.0,176.9 55.0,177.0 56.0,177.1 57.0,177.1 58.0,177.1 59.0,177.2 60.0,177.1 61.0,177.1 62.0,177.1 63.0,177.0 64.0,176.9 65.0,176.8 66.0,176.7 67.0,176.6 68.0,176.5 69.0,176.3 70.0,176.2 71.0,176.0 72.0,175.8 73.0,175.6 74.0,175.3 75.0,175.0 76.0,174.7 77.0,174.3 78.0,173.9 79.0,173.5 80.0,173.0 81.0,172.6 82.0,172.1 83.0,171.6 84.0,171.2 85.0,170.7 86.0,170.2 87.0,169.7 88.0,169.1 89.0,168.6 90.0,168.0 91.0,167.4 92.0,166.8 93.0,166.2 94.0,165.6 95.0,165.0 96.0,164.4 97.0,163.8 98.0,163.2 99.0,162.6 100.0,162.0 101.0,161.4 102.0,160.8 103.0,160.2 104.0,159.6 105.0,159.0 106.0,158.4 107.0,157.8 108.0,157.2 109.0,156.6 110.0,156.0 111.0,155.4 112.0,154.8 113.0,154.2 114.0,153.6 115.0,152.9 116.0,152.2 117.0,151.4 118.0,150.5 119.0,149.6 120.0,148.7 121.0,147.7 122.0,146.7 123.0,145.6 124.0,144.5 125.0,143.5 126.0,142.4 127.0,141.2 128.0,140.1 129.0,138.9 130.0,137.7 131.0,136.6 132.0,135.5 133.0,134.4 134.0,133.3 135.0,132.3 136.0,131.3 137.0,130.4 138.0,129.5 139.0,128.7 140.0,127.8 141.0,126.9 142.0,126.1 143.0,125.2 144.0,124.4 145.0,123.6 146.0,122.9 147.0,122.3 148.0,121.7 149.0,121.1 150.0,120.6 151.0,120.2 152.0,119.8 153.0,119.5 154.0,119.3 155.0,119.1 156.0,119.0 157.0,119.0 158.0,119.0 159.0,119.2 160.0,119.5 161.0,119.9 162.0,120.4 163.0,121.0 164.0,121.7 165.0,122.4 166.0,123.2 167.0,124.1 168.0,125.0 169.0,126.0 170.0,127.1 171.0,128.3 172.0,129.5 173.0,130.8 174.0,132.2 175.0,133.7 176.0,135.2 177.0,136.8 178.0,138.4 179.0,139.9 180.0,141.4 181.0,142.9 182.0,144.3 183.0,145.8 184.0,147.3 185.0,148.9 186.0,150.6 187.0,152.3 188.0,154.2 189.0,156.0 190.0,158.0 191.0,160.0 192.0,162.0 193.0,163.9 194.0,165.7 195.0,167.2 196.0,168.4 197.0,169.4 198.0,170.3 199.0,171.0 200.0,171.8 201.0,172.5 202.0,173.2 203.0,173.7 204.0,173.8 205.0,173.5 206.0,173.0 207.0,172.9 208.0,173.5 209.0,174.4 210.0,175.5 211.0,176.6 212.0,177.5 213.0,178.4 214.0,179.3 215.0,180.0 216.0,180.7 217.0,181.3 218.0,181.9 219.0,182.4 220.0,182.9 221.0,183.3 222.0,183.7 223.0,184.1 224.0,184.4 225.0,184.7 226.0,185.0 227.0,185.2 228.0,185.4 229.0,185.6 230.0,185.8 231.0,186.0 232.0,186.2 233.0,186.4 234.0,186.6 235.0,186.8 236.0,187.0 237.0,187.2 238.0,187.3 239.0,187.5 240.0,187.7 241.0,187.9 242.0,188.0 243.0,188.2 244.0,188.3 245.0,188.5 246.0,188.7 247.0,188.8 248.0,189.0 249.0,189.1 250.0,189.3 251.0,189.4 252.0,189.6 253.0,189.7 254.0,189.8 255.0,190.0 256.0,190.1 257.0,190.3 258.0,190.4 259.0,190.6 260.0,190.7 261.0,190.9 262.0,191.0 263.0,191.2 264.0,191.3 265.0,191.5 266.0,191.7 267.0,191.9 268.0,192.0 269.0,192.2 270.0,192.4 271.0,192.6 272.0,192.8 273.0,193.0 274.0,193.2 275.0,193.4 276.0,193.6 277.0,193.8 278.0,194.1 279.0,194.3 280.0,194.5 281.0,194.8 282.0,195.0 283.0,195.3 284.0,195.5 285.0,195.8 286.0,196.1 287.0,196.4 288.0,196.7 289.0,197.0 290.0,197.4 291.0,197.8 292.0,198.2 293.0,198.6 294.0,199.1 295.0,199.6 296.0,200.0 297.0,200.5 298.0,201.0 299.0,201.5 300.0,202.0 301.0,202.4 302.0,202.9 303.0,203.3 304.0,203.7 305.0,204.1 306.0,204.5 307.0,204.8 308.0,205.2 309.0,205.5 310.0,205.8 311.0,206.1 312.0,206.4 313.0,206.7 314.0,207.0 315.0,207.3 316.0,207.5 317.0,207.8 318.0,208.0 319.0,208.3 320.0,208.5 321.0,208.7 322.0,208.9 323.0,209.1 324.0,209.3 325.0,209.5 326.0,209.7 327.0,209.8 328.0,210.0 329.0,210.2 330.0,210.3 331.0,210.5 332.0,210.6 333.0,210.7 334.0,210.9 335.0,211.0 336.0,211.1 337.0,211.2 338.0,211.3 339.0,211.4 340.0,211.5 341.0,211.6 342.0,211.7 343.0,211.7 344.0,211.8 345.0,211.9 346.0,211.9 347.0,212.0 347.6,212.0" stroke="#4080c8"/>
<path d="M31.0,168.8 32.0,169.2 33.0,169.5 34.0,169.9 35.0,170.2 36.0,170.6 37.0,170.9 38.0,171.2 39.0,171.5 40.0,171.8 41.0,172.0 42.0,172.3 43.0,172.6 44.0,172.8 45.0,173.1 46.0,173.3 47.0,173.5 48.0,173.7 49.0,173.9 50.0,174.1 51.0,174.2 52.0,174.3 53.0,174.4 54.0,174.4 55.0,174.5 56.0,174.5 57.0,174.6 58.0,174.6 59.0,174.6 60.0,174.6 61.0,174.5 62.0,174.5 63.0,174.4 64.0,174.3 65.0,174.2 66.0,174.1 67.0,174.0 68.0,173.9 69.0,173.8 70.0,173.7 71.0,173.5 72.0,173.3 73.0,173.2 74.0,172.9 75.0,172.7 76.0,172.4 77.0,172.1 78.0,171.8 79.0,171.5 80.0,171.1 81.0,170.8 82.0,170.4 83.0,170.0 84.0,169.6 85.0,169.2 86.0,168.8 87.0,168.3 88.0,167.8 89.0,167.3 90.0,166.8 91.0,166.2 92.0,165.7 93.0,165.1 94.0,164.5 95.0,164.0 96.0,163.4 97.0,162.8 98.0,162.2 99.0,161.6 100.0,161.0 101.0,160.4 102.0,159.8 103.0,159.2 104.0,158.6 105.0,158.0 106.0,157.4 107.0,156.8 108.0,156.2 109.0,155.6 110.0,155.0 111.0,154.5 112.0,154.0 113.0,153.4 114.0,152.8 115.0,152.2 116.0,151.5 117.0,150.8 118.0,150.0 119.0,149.1 120.0,148.1 121.0,147.1 122.0,146.1 123.0,145.1 124.0,144.0 125.0,143.0 126.0,142.0 127.0,141.0 128.0,140.0 129.0,138.9 130.0,137.9 131.0,136.9 132.0,135.9 133.0,135.0 134.0,134.0 135.0,133.1 136.0,132.2 137.0,131.4 138.0,130.6 139.0,129.7 140.0,129.0 141.0,128.2 142.0,127.4 143.0,126.7 144.0,126.0 145.0,125.3 146.0,124.7 147.0,124.2 148.0,123.7 149.0,123.2 150.0,122.8 151.0,122.5 152.0,122.2 153.0,121.9 154.0,121.7 155.0,121.6 156.0,121.5 157.0,121.5 158.0,121.6 159.0,121.8 160.0,122.1 161.0,122.5 162.0,123.1 163.0,123.7 164.0,124.3 165.0,125.1 166.0,125.8 167.0,126.7 168.0,127.5 169.0,128.5 170.0,129.4 171.0,130.5 172.0,131.6 173.0,132.9 174.0,134.2 175.0,135.7 176.0,137.2 177.0,138.8 178.0,140.3 179.0,141.7 180.0,143.0 181.0,144.3 182.0,145.5 183.0,146.9 184.0,148.3 185.0,149.8 186.0,151.4 187.0,153.2 188.0,155.0 189.0,156.8 190.0,158.8 191.0,160.7 192.0,162.7 193.0,164.5 194.0,166.2 195.0,167.6 196.0,168.8 197.0,169.7 198.0,170.5 199.0,171.3 200.0,172.0 201.0,172.7 202.0,173.4 203.0,174.0 204.0,174.1 205.0,173.8 206.0,173.3 207.0,173.1 208.0,173.6 209.0,174.5 210.0,175.5 211.0,176.4 212.0,177.3 213.0,178.1 214.0,178.9 215.0,179.6 216.0,180.3 217.0,180.8 218.0,181.4 219.0,181.9 220.0,182.4 221.0,182.8 222.0,183.2 223.0,183.5 224.0,183.8 225.0,184.1 226.0,184.4 227.0,184.6 228.0,184.8 229.0,185.0 230.0,185.2 231.0,185.4 232.0,185.6 233.0,185.8 234.0,186.0 235.0,186.2 236.0,186.3 237.0,186.5 238.0,186.7 239.0,186.8 240.0,187.0 241.0,187.2 242.0,187.3 243.0,187.5 244.0,187.6 245.0,187.8 246.0,187.9 247.0,188.1 248.0,188.3 249.0,188.4 250.0,188.6 251.0,188.7 252.0,188.9 253.0,189.0 254.0,189.2 255.0,189.3 256.0,189.4 257.0,189.6 258.0,189.7 259.0,189.8 260.0,190.0 261.0,190.1 262.0,190.3 263.0,190.4 264.0,190.6 265.0,190.7 266.0,190.9 267.0,191.0 268.0,191.2 269.0,191.4 270.0,191.6 271.0,191.7 272.0,191.9 273.0,192.1 274.0,192.3 275.0,192.5 276.0,192.7 277.0,192.9 278.0,193.1 279.0,193.4 280.0,193.6 281.0,193.8 282.0,194.1 283.0,194.3 284.0,194.6 285.0,194.8 286.0,195.1 287.0,195.4 288.0,195.7 289.0,196.0 290.0,196.4 291.0,196.8 292.0,197.2 293.0,197.6 294.0,198.1 295.0,198.5 296.0,199.0 297.0,199.5 298.0,200.0 299.0,200.4 300.0,200.9 301.0,201.4 302.0,201.8 303.0,202.3 304.0,202.7 305.0,203.1 306.0,203.5 307.0,203.8 308.0,204.2 309.0,204.5 310.0,204.9 311.0,205.2 312.0,205.5 313.0,205.9 314.0,206.2 315.0,206.5 316.0,206.8 317.0,207.0 318.0,207.3 319.0,207.5 320.0,207.8 321.0,208.0 322.0,208.2 323.0,208.4 324.0,208.6 325.0,208.8 326.0,209.0 327.0,209.2 328.0,209.4 329.0,209.6 330.0,209.7 331.0,209.9 332.0,210.0 333.0,210.2 334.0,210.3 335.0,210.5 336.0,210.6 337.0,210.8 338.0,210.9 339.0,211.0 340.0,211.2 341.0,211.3 342.0,211.4 343.0,211.5 344.0,211.6 345.0,211.8 346.0,211.9 347.0,212.0 347.6,212.0" stroke="#30a8a8"/>
<path d="M31.0,167.6 32.0,168.0 33.0,168.3 34.0,168.7 35.0,169.0 36.0,169.4 37.0,169.7 38.0,170.0 39.0,170.3 40.0,170.6 41.0,170.9 42.0,171.1 43.0,171.4 44.0,171.7 45.0,171.9 46.0,172.2 47.0,172.4 48.0,172.6 49.0,172.8 50.0,173.0 51.0,173.2 52.0,173.3 53.0,173.4 54.0,173.5 55.0,173.5 56.0,173.6 57.0,173.6 58.0,173.7 59.0,173.7 60.0,173.6 61.0,173.6 62.0,173.6 63.0,173.5 64.0,173.4 65.0,173.3 66.0,173.2 67.0,173.1 68.0,173.0 69.0,172.8 70.0,172.7 71.0,172.5 72.0,172.3 73.0,172.1 74.0,171.9 75.0,171.7 76.0,171.4 77.0,171.1 78.0,170.8 79.0,170.5 80.0,170.1 81.0,169.8 82.0,169.4 83.0,169.0 84.0,168.6 85.0,168.2 86.0,167.8 87.0,167.3 88.0,166.8 89.0,166.3 90.0,165.8 91.0,165.2 92.0,164.7 93.0,164.1 94.0,163.5 95.0,163.0 96.0,162.4 97.0,161.8 98.0,161.3 99.0,160.7 100.0,160.2 101.0,159.6 102.0,159.0 103.0,158.5 104.0,157.9 105.0,157.3 106.0,156.8 107.0,156.2 108.0,155.6 109.0,155.1 110.0,154.5 111.0,154.0 112.0,153.5 113.0,152.9 114.0,152.3 115.0,151.7 116.0,151.1 117.0,150.4 118.0,149.6 119.0,148.8 120.0,148.0 121.0,147.1 122.0,146.2 123.0,145.3 124.0,144.4 125.0,143.5 126.0,142.5 127.0,141.6 128.0,140.6 129.0,139.7 130.0,138.7 131.0,137.8 132.0,136.8 133.0,136.0 134.0,135.1 135.0,134.3 136.0,133.5 137.0,132.8 138.0,132.1 139.0,131.4 140.0,130.7 141.0,130.0 142.0,129.3 143.0,128.6 144.0,128.0 145.0,127.4 146.0,126.9 147.0,126.4 148.0,125.9 149.0,125.5 150.0,125.2 151.0,124.9 152.0,124.7 153.0,124.5 154.0,124.4 155.0,124.3 156.0,124.2 157.0,124.3 158.0,124.4 159.0,124.6 160.0,124.9 161.0,125.4 162.0,125.9 163.0,126.5 164.0,127.2 165.0,128.0 166.0,128.8 167.0,129.7 168.0,130.6 169.0,131.6 170.0,132.6 171.0,133.7 172.0,134.8 173.0,136.0 174.0,137.1 175.0,138.3 176.0,139.5 177.0,140.8 178.0,142.0 179.0,143.3 180.0,144.6 181.0,146.0 182.0,147.4 183.0,148.8 184.0,150.4 185.0,152.0 186.0,153.7 187.0,155.5 188.0,157.3 189.0,159.1 190.0,161.0 191.0,162.8 192.0,164.5 193.0,166.1 194.0,167.5 195.0,168.7 196.0,169.6 197.0,170.4 198.0,171.2 199.0,171.9 200.0,172.5 201.0,173.2 202.0,173.8 203.0,174.4 204.0,174.5 205.0,174.1 206.0,173.7 207.0,173.6 208.0,174.1 209.0,175.0 210.0,175.9 211.0,176.9 212.0,177.8 213.0,178.7 214.0,179.5 215.0,180.3 216.0,181.0 217.0,181.7 218.0,182.3 219.0,182.8 220.0,183.3 221.0,183.7 222.0,184.1 223.0,184.5 224.0,184.8 225.0,185.1 226.0,185.4 227.0,185.7 228.0,185.9 229.0,186.2 230.0,186.4 231.0,186.6 232.0,186.8 233.0,187.0 234.0,187.2 235.0,187.4 236.0,187.5 237.0,187.7 238.0,187.9 239.0,188.0 240.0,188.2 241.0,188.4 242.0,188.5 243.0,188.7 244.0,188.8 245.0,189.0 246.0,189.1 247.0,189.3 248.0,189.4 249.0,189.6 250.0,189.7 251.0,189.9 252.0,190.0 253.0,190.2 254.0,190.3 255.0,190.5 256.0,190.6 257.0,190.8 258.0,190.9 259.0,191.1 260.0,191.2 261.0,191.4 262.0,191.5 263.0,191.7 264.0,191.8 265.0,192.0 266.0,192.2 267.0,192.4 268.0,192.6 269.0,192.8 270.0,193.0 271.0,193.2 272.0,193.4 273.0,193.6 274.0,193.9 275.0,194.1 276.0,194.3 277.0,194.6 278.0,194.8 279.0,195.1 280.0,195.3 281.0,195.6 282.0,195.9 283.0,196.2 284.0,196.5 285.0,196.7 286.0,197.1 287.0,197.4 288.0,197.7 289.0,198.1 290.0,198.4 291.0,198.8 292.0,199.3 293.0,199.7 294.0,200.1 295.0,200.6 296.0,201.1 297.0,201.6 298.0,202.0 299.0,202.5 300.0,203.0 301.0,203.4 302.0,203.9 303.0,204.3 304.0,204.7 305.0,205.1 306.0,205.5 307.0,205.8 308.0,206.1 309.0,206.5 310.0,206.8 311.0,207.1 312.0,207.4 313.0,207.7 314.0,208.0 315.0,208.2 316.0,208.5 317.0,208.8 318.0,209.0 319.0,209.3 320.0,209.5 321.0,209.7 322.0,209.9 323.0,210.1 324.0,210.4 325.0,210.6 326.0,210.8 327.0,210.9 328.0,211.1 329.0,211.3 330.0,211.5 331.0,211.7 332.0,211.8 333.0,212.0 334.0,212.1 335.0,212.3 336.0,212.4 337.0,212.6 338.0,212.7 339.0,212.9 340.0,213.0 341.0,213.1 342.0,213.2 343.0,213.3 344.0,213.5 345.0,213.6 346.0,213.7 347.0,213.8 347.6,213.8" stroke="#c08040"/>
<path d="M31.0,176.6 32.0,176.9 33.0,177.2 34.0,177.6 35.0,177.9 36.0,178.2 37.0,178.5 38.0,178.8 39.0,179.1 40.0,179.4 41.0,179.7 42.0,180.0 43.0,180.3 44.0,180.5 45.0,180.8 46.0,181.0 47.0,181.3 48.0,181.5 49.0,181.7 50.0,181.9 51.0,182.1 52.0,182.3 53.0,182.4 54.0,182.6 55.0,182.7 56.0,182.8 57.0,182.9 58.0,182.9 59.0,182.9 60.0,183.0 61.0,182.9 62.0,182.9 63.0,182.9 64.0,182.8 65.0,182.7 66.0,182.6 67.0,182.5 68.0,182.3 69.0,182.1 70.0,181.8 71.0,181.6 72.0,181.3 73.0,181.0 74.0,180.7 75.0,180.4 76.0,180.1 77.0,179.8 78.0,179.4 79.0,179.1 80.0,178.7 81.0,178.3 82.0,177.9 83.0,177.5 84.0,177.1 85.0,176.7 86.0,176.3 87.0,175.9 88.0,175.4 89.0,175.0 90.0,174.5 91.0,174.0 92.0,173.5 93.0,173.0 94.0,172.5 95.0,171.9 96.0,171.3 97.0,170.7 98.0,170.1 99.0,169.5 100.0,168.8 101.0,168.2 102.0,167.6 103.0,167.0 104.0,166.5 105.0,165.9 106.0,165.3 107.0,164.8 108.0,164.2 109.0,163.6 110.0,163.1 111.0,162.5 112.0,161.9 113.0,161.3 114.0,160.6 115.0,159.9 116.0,159.1 117.0,158.3 118.0,157.4 119.0,156.5 120.0,155.6 121.0,154.7 122.0,153.9 123.0,153.1 124.0,152.3 125.0,151.5 126.0,150.7 127.0,149.9 128.0,149.2 129.0,148.5 130.0,147.7 131.0,147.0 132.0,146.3 133.0,145.6 134.0,144.9 135.0,144.1 136.0,143.4 137.0,142.7 138.0,142.0 139.0,141.2 140.0,140.5 141.0,139.6 142.0,138.8 143.0,137.9 144.0,137.0 145.0,136.2 146.0,135.4 147.0,134.8 148.0,134.2 149.0,133.8 150.0,133.4 151.0,133.0 152.0,132.7 153.0,132.4 154.0,132.2 155.0,132.0 156.0,131.8 157.0,131.7 158.0,131.6 159.0,131.7 160.0,131.9 161.0,132.2 162.0,132.7 163.0,133.2 164.0,133.8 165.0,134.6 166.0,135.5 167.0,136.4 168.0,137.3 169.0,138.3 170.0,139.3 171.0,140.3 172.0,141.3 173.0,142.4 174.0,143.5 175.0,144.6 176.0,145.8 177.0,146.9 178.0,148.1 179.0,149.3 180.0,150.5 181.0,151.8 182.0,153.1 183.0,154.5 184.0,156.0 185.0,157.6 186.0,159.2 187.0,160.8 188.0,162.5 189.0,164.1 190.0,165.6 191.0,167.0 192.0,168.3 193.0,169.4 194.0,170.4 195.0,171.4 196.0,172.4 197.0,173.4 198.0,174.5 199.0,175.6 200.0,176.8 201.0,177.9 202.0,179.0 203.0,180.1 204.0,180.8 205.0,181.0 206.0,181.1 207.0,181.2 208.0,181.6 209.0,182.3 210.0,183.1 211.0,183.9 212.0,184.7 213.0,185.4 214.0,186.1 215.0,186.7 216.0,187.2 217.0,187.7 218.0,188.2 219.0,188.7 220.0,189.1 221.0,189.6 222.0,190.0 223.0,190.4 224.0,190.8 225.0,191.2 226.0,191.5 227.0,191.8 228.0,192.1 229.0,192.3 230.0,192.6 231.0,192.8 232.0,193.1 233.0,193.3 234.0,193.6 235.0,193.8 236.0,194.0 237.0,194.2 238.0,194.4 239.0,194.6 240.0,194.8 241.0,194.9 242.0,195.1 243.0,195.3 244.0,195.4 245.0,195.6 246.0,195.7 247.0,195.8 248.0,196.0 249.0,196.1 250.0,196.2 251.0,196.3 252.0,196.5 253.0,196.6 254.0,196.7 255.0,196.8 256.0,196.9 257.0,197.0 258.0,197.1 259.0,197.2 260.0,197.3 261.0,197.4 262.0,197.5 263.0,197.7 264.0,197.8 265.0,198.0 266.0,198.1 267.0,198.3 268.0,198.4 269.0,198.6 270.0,198.7 271.0,198.8 272.0,199.0 273.0,199.1 274.0,199.2 275.0,199.4 276.0,199.5 277.0,199.7 278.0,199.9 279.0,200.1 280.0,200.3 281.0,200.5 282.0,200.8 283.0,201.0 284.0,201.3 285.0,201.6 286.0,201.8 287.0,202.1 288.0,202.4 289.0,202.7 290.0,203.0 291.0,203.4 292.0,203.7 293.0,204.1 294.0,204.4 295.0,204.8 296.0,205.1 297.0,205.5 298.0,205.9 299.0,206.2 300.0,206.5 301.0,206.9 302.0,207.2 303.0,207.5 304.0,207.8 305.0,208.1 306.0,208.4 307.0,208.7 308.0,209.0 309.0,209.2 310.0,209.5 311.0,209.8 312.0,210.0 313.0,210.3 314.0,210.5 315.0,210.7 316.0,211.0 317.0,211.2 318.0,211.4 319.0,211.6 320.0,211.8 321.0,212.0 322.0,212.2 323.0,212.4 324.0,212.5 325.0,212.7 326.0,212.9 327.0,213.0 328.0,213.2 329.0,213.3 330.0,213.5 331.0,213.6 332.0,213.7 333.0,213.9 334.0,214.0 335.0,214.1 336.0,214.3 337.0,214.4 338.0,214.5 339.0,214.6 340.0,214.7 341.0,214.9 342.0,215.0 343.0,215.1 344.0,215.3 345.0,215.4 346.0,215.6 347.0,215.7 347.6,215.8" stroke="#20dc70"/>
</g>
<line x1="31.0" x2="31.0" y1="0" y2="220.7" stroke="#3c3c3c" stroke-width="1.7"/>
<line x1="347.75" x2="347.75" y1="0" y2="220.7" stroke="#484848" stroke-width="1.6"/>
<line x1="30.2" x2="348.5" y1="0.3" y2="0.3" stroke="#0a0a0a" stroke-width="1.6"/>
<line x1="30.2" x2="348.5" y1="219.95" y2="219.95" stroke="#4a4a4a" stroke-width="1.7"/>
<g opacity="0.999">
<line x1="59.8" x2="59.8" y1="220.5" y2="224.2" stroke="#444" stroke-width="1.35"/>
<text class="tk" text-anchor="middle" transform="translate(60.0,236.1) scale(1.13,1)">260</text>
<line x1="91.7" x2="91.7" y1="220.5" y2="224.2" stroke="#444" stroke-width="1.35"/>
<text class="tk" text-anchor="middle" transform="translate(92.8,236.1) scale(1.13,1)">270</text>
<line x1="123.5" x2="123.5" y1="220.5" y2="224.2" stroke="#444" stroke-width="1.35"/>
<text class="tk" text-anchor="middle" transform="translate(125.8,236.1) scale(1.13,1)">280</text>
<line x1="155.4" x2="155.4" y1="220.5" y2="224.2" stroke="#444" stroke-width="1.35"/>
<text class="tk" text-anchor="middle" transform="translate(166.8,236.1) scale(1.13,1)">290</text>
<line x1="187.6" x2="187.6" y1="220.5" y2="224.2" stroke="#444" stroke-width="1.35"/>
<text class="tk" text-anchor="middle" transform="translate(186.4,236.1) scale(1.13,1)">300</text>
<line x1="219.6" x2="219.6" y1="220.5" y2="224.2" stroke="#444" stroke-width="1.35"/>
<text class="tk" text-anchor="middle" transform="translate(222.3,236.1) scale(1.13,1)">310</text>
<line x1="251.4" x2="251.4" y1="220.5" y2="224.2" stroke="#444" stroke-width="1.35"/>
<text class="tk" text-anchor="middle" transform="translate(252.1,236.1) scale(1.13,1)">320</text>
<line x1="283.6" x2="283.6" y1="220.5" y2="224.2" stroke="#444" stroke-width="1.35"/>
<text class="tk" text-anchor="middle" transform="translate(287.3,236.1) scale(1.13,1)">330</text>
<line x1="315.4" x2="315.4" y1="220.5" y2="224.2" stroke="#444" stroke-width="1.35"/>
<text class="tk" text-anchor="middle" transform="translate(315.9,236.1) scale(1.13,1)">340</text>
<line x1="347.3" x2="347.3" y1="220.5" y2="224.2" stroke="#444" stroke-width="1.35"/>
<text class="tk" text-anchor="middle" transform="translate(349.5,236.1) scale(1.13,1)">350</text>
<line x1="289.7" x2="312.9" y1="14.50" y2="14.50" stroke="#ff0000" stroke-width="1.00" opacity="0.64"/>
<text x="315.8" y="17.30" class="lg">0min30</text>
<line x1="289.7" x2="312.9" y1="26.50" y2="26.50" stroke="#101010" stroke-width="1.00" opacity="0.64"/>
<text x="315.8" y="29.06" class="lg">min60</text>
<line x1="289.7" x2="312.9" y1="38.00" y2="38.00" stroke="#0000ff" stroke-width="1.15" opacity="0.62"/>
<text x="315.8" y="40.82" class="lg">min90</text>
<line x1="289.7" x2="312.9" y1="49.50" y2="49.50" stroke="#ff00ff" stroke-width="1.00" opacity="0.64"/>
<text x="315.8" y="52.58" class="lg">min120</text>
<line x1="289.7" x2="312.9" y1="61.40" y2="61.40" stroke="#1a8c1a" stroke-width="1.00" opacity="0.64"/>
<text x="315.8" y="64.34" class="lg">min150</text>
<line x1="289.7" x2="312.9" y1="73.00" y2="73.00" stroke="#000090" stroke-width="1.15" opacity="0.62"/>
<text x="315.8" y="76.10" class="lg">min180</text>
<line x1="289.7" x2="312.9" y1="84.60" y2="84.60" stroke="#8000ff" stroke-width="1.00" opacity="0.64"/>
<text x="315.8" y="87.86" class="lg">min210</text>
<line x1="289.7" x2="312.9" y1="96.40" y2="96.40" stroke="#a020a0" stroke-width="1.00" opacity="0.64"/>
<text x="315.8" y="99.62" class="lg">min240</text>
<line x1="289.7" x2="312.9" y1="108.00" y2="108.00" stroke="#a03030" stroke-width="1.15" opacity="0.62"/>
<text x="315.8" y="111.38" class="lg">min270</text>
<line x1="289.7" x2="312.9" y1="119.50" y2="119.50" stroke="#9a9a28" stroke-width="1.00" opacity="0.64"/>
<text x="315.8" y="123.14" class="lg">min300</text>
<line x1="289.7" x2="312.9" y1="131.85" y2="131.85" stroke="#4080c8" stroke-width="1.15" opacity="0.62"/>
<text x="315.8" y="134.90" class="lg">min330</text>
<line x1="289.7" x2="312.9" y1="144.00" y2="144.00" stroke="#30a8a8" stroke-width="1.15" opacity="0.62"/>
<text x="315.8" y="146.66" class="lg">min360</text>
<line x1="289.7" x2="312.9" y1="155.55" y2="155.55" stroke="#c08040" stroke-width="1.00" opacity="0.64"/>
<text x="315.8" y="158.42" class="lg">min390</text>
<line x1="289.7" x2="312.9" y1="167.50" y2="167.50" stroke="#20dc70" stroke-width="1.00" opacity="0.64"/>
<text x="315.8" y="170.18" class="lg">min</text>
<text class="xt" x="0" y="0" transform="translate(145.2,256.4) scale(1.447,1)" stroke="#111" stroke-width="0.18">Wavelength(nm)</text>
<text class="yt" x="0" y="0" transform="translate(13.4,173.3) rotate(-90) scale(1,1.46)" stroke="#111" stroke-width="0.25">Absorbance(a.u)</text>
</g>
</svg>
</body></html>
